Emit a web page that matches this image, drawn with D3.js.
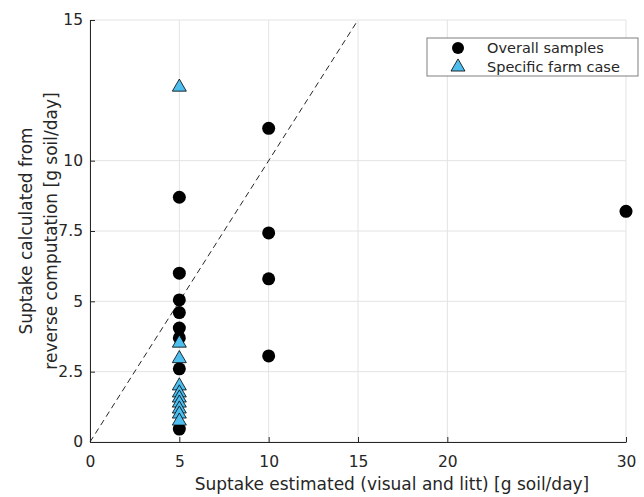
<!DOCTYPE html>
<html>
<head>
<meta charset="utf-8">
<script src="https://cdn.jsdelivr.net/npm/d3@7"></script>
<style>
body { margin: 0; background: #fff; }
text { font-family: "DejaVu Sans", Verdana, sans-serif; fill: #262626; }
</style>
</head>
<body>
<svg id="chart" width="644" height="497"></svg>
<script>
// values
var xTicks = [0, 5, 10, 15, 20, 30];
var yTicks = [0, 2.5, 5, 7.5, 10, 15];

var overallX = [5, 5, 5, 5, 5, 5, 5, 5, 10, 10, 10, 10, 30];
var overallY = [8.7, 6.0, 5.05, 4.6, 4.05, 3.7, 2.6, 0.46, 11.15, 7.43, 5.8, 3.06, 8.2];

var farmX = [5, 5, 5, 5, 5, 5, 5, 5, 5, 5];
var farmY = [12.65, 3.55, 3.0, 2.03, 1.78, 1.6, 1.42, 1.21, 1.03, 0.78];

var legendLabels = ['Overall samples', 'Specific farm case'];

var svg = d3.select('#chart');

var scale =
{
    x: d3.scaleLinear().domain([0, 30]).range([90, 626]),
    y: d3.scaleLinear().domain([0, 15]).range([442, 20])
};

var axisColor = '#262626';
var farmColor = '#4DBEEE';

// grid
svg.append('g').selectAll('line.gx').data(xTicks).enter().append('line')
    .attr('x1', d => scale.x(d)).attr('x2', d => scale.x(d))
    .attr('y1', scale.y(0)).attr('y2', scale.y(15))
    .attr('stroke', '#e3e3e3').attr('stroke-width', 1);
svg.append('g').selectAll('line.gy').data(yTicks).enter().append('line')
    .attr('x1', scale.x(0)).attr('x2', scale.x(30))
    .attr('y1', d => scale.y(d)).attr('y2', d => scale.y(d))
    .attr('stroke', '#e3e3e3').attr('stroke-width', 1);

// axes, ticks pointing inward
var xAxis = svg.append('g')
    .attr('transform', 'translate(0,' + scale.y(0) + ')')
    .call(d3.axisBottom(scale.x).tickValues(xTicks).tickSizeInner(-5).tickSizeOuter(0).tickPadding(14));
var yAxis = svg.append('g')
    .attr('transform', 'translate(' + scale.x(0) + ',0)')
    .call(d3.axisLeft(scale.y).tickValues(yTicks).tickSizeInner(-5).tickSizeOuter(0).tickPadding(7)
        .tickFormat(d => d));

[xAxis, yAxis].forEach(function(a) {
    a.select('.domain').attr('stroke', axisColor);
    a.selectAll('.tick line').attr('stroke', axisColor);
    a.selectAll('.tick text').attr('font-size', 15.5).attr('fill', axisColor)
        .style('font-family', '"DejaVu Sans", Verdana, sans-serif');
});

// 1:1 line
svg.append('line')
    .attr('x1', scale.x(0)).attr('y1', scale.y(0))
    .attr('x2', scale.x(15)).attr('y2', scale.y(15))
    .attr('stroke', '#262626').attr('stroke-width', 1)
    .attr('stroke-dasharray', '6,4');

var triangle = d3.symbol().type(d3.symbolTriangle).size(85);

// overall samples
svg.append('g').selectAll('circle').data(overallY).enter().append('circle')
    .attr('cx', (d, i) => scale.x(overallX[i]))
    .attr('cy', d => scale.y(d))
    .attr('r', 6.5)
    .attr('fill', '#000');

// specific farm case
svg.append('g').selectAll('path').data(farmY).enter().append('path')
    .attr('d', triangle)
    .attr('transform', (d, i) => 'translate(' + scale.x(farmX[i]) + ',' + (scale.y(d) + 1) + ')')
    .attr('fill', farmColor)
    .attr('stroke', '#000').attr('stroke-width', 0.8);

// legend
var legend = svg.append('g').attr('transform', 'translate(427,38)');
legend.append('rect')
    .attr('width', 211).attr('height', 38)
    .attr('fill', '#fff').attr('stroke', '#7f7f7f').attr('stroke-width', 1);
legend.append('circle').attr('cx', 31).attr('cy', 10).attr('r', 6).attr('fill', '#000');
legend.append('path').attr('d', triangle)
    .attr('transform', 'translate(31,29)')
    .attr('fill', farmColor).attr('stroke', '#000').attr('stroke-width', 0.8);
legend.selectAll('text').data(legendLabels).enter().append('text')
    .attr('x', 60).attr('y', (d, i) => 10 + i * 19)
    .attr('dy', '0.35em')
    .attr('font-size', 14.5)
    .text(d => d);

// axis titles
svg.append('text')
    .attr('x', 392).attr('y', 490)
    .attr('text-anchor', 'middle')
    .attr('font-size', 17)
    .text('Suptake estimated (visual and litt) [g soil/day]');

var yTitle = svg.append('text')
    .attr('transform', 'translate(32,231) rotate(-90)')
    .attr('text-anchor', 'middle')
    .attr('font-size', 17);
yTitle.append('tspan').attr('x', 0).attr('y', 0).text('Suptake calculated from');
yTitle.append('tspan').attr('x', 0).attr('y', 25).text('reverse computation [g soil/day]');
</script>
</body>
</html>
